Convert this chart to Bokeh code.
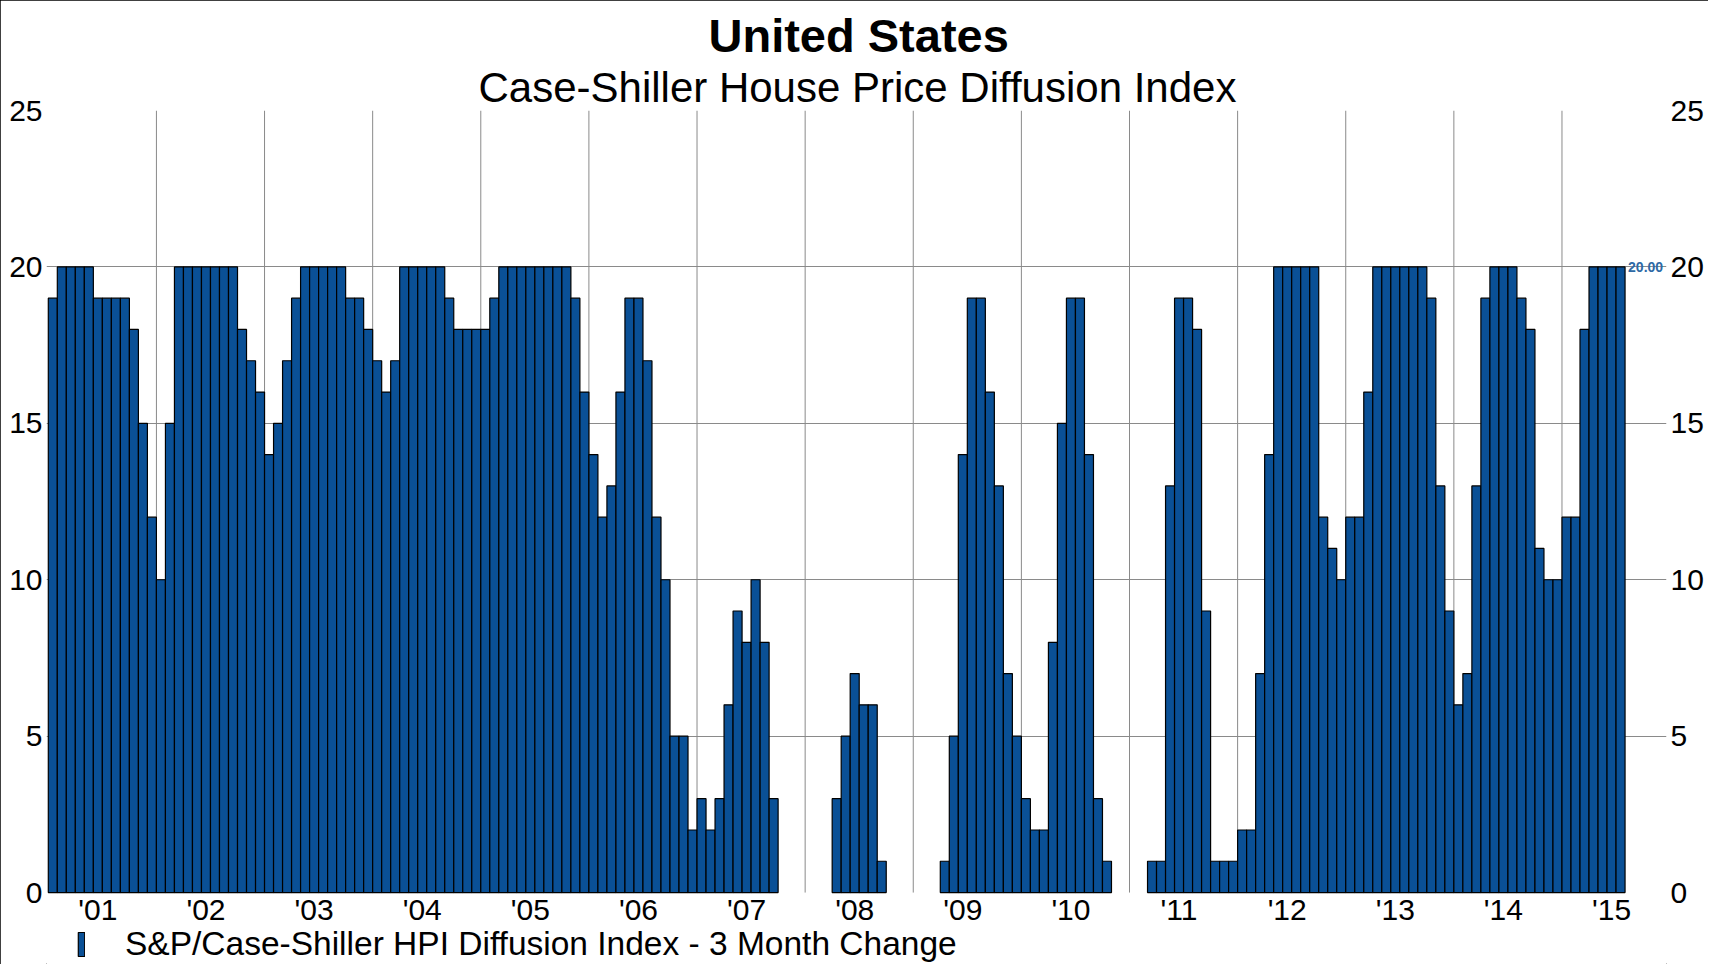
from bokeh.plotting import figure
from bokeh.models import (ColumnDataSource, FixedTicker, LinearAxis, Title, Label,
                          Legend, LegendItem, Range1d)
from bokeh.core.properties import value
from bokeh.embed import file_html
from bokeh.resources import INLINE

# Monthly values, Jan 2001 - Jul 2015
v2001 = [19, 20, 20, 20, 20, 19, 19, 19, 19, 18, 15, 12]
v2002 = [10, 15, 20, 20, 20, 20, 20, 20, 20, 18, 17, 16]
v2003 = [14, 15, 17, 19, 20, 20, 20, 20, 20, 19, 19, 18]
v2004 = [17, 16, 17, 20, 20, 20, 20, 20, 19, 18, 18, 18]
v2005 = [18, 19, 20, 20, 20, 20, 20, 20, 20, 20, 19, 16]
v2006 = [14, 12, 13, 16, 19, 19, 17, 12, 10, 5, 5, 2]
v2007 = [3, 2, 3, 6, 9, 8, 10, 8, 3, 0, 0, 0]
v2008 = [0, 0, 0, 3, 5, 7, 6, 6, 1, 0, 0, 0]
v2009 = [0, 0, 0, 1, 5, 14, 19, 19, 16, 13, 7, 5]
v2010 = [3, 2, 2, 8, 15, 19, 19, 14, 3, 1, 0, 0]
v2011 = [0, 0, 1, 1, 13, 19, 19, 18, 9, 1, 1, 1]
v2012 = [2, 2, 7, 14, 20, 20, 20, 20, 20, 12, 11, 10]
v2013 = [12, 12, 16, 20, 20, 20, 20, 20, 20, 19, 13, 9]
v2014 = [6, 7, 13, 19, 20, 20, 20, 19, 18, 11, 10, 10]
v2015 = [12, 12, 18, 20, 20, 20, 20]

year_labels = ["'01", "'02", "'03", "'04", "'05", "'06", "'07", "'08",
               "'09", "'10", "'11", "'12", "'13", "'14", "'15"]
y_ticks = [0, 5, 10, 15, 20, 25]

values = (v2001 + v2002 + v2003 + v2004 + v2005 + v2006 + v2007 + v2008 +
          v2009 + v2010 + v2011 + v2012 + v2013 + v2014 + v2015)
month_pos = [i + 0.5 for i in range(len(values))]
# zero months draw nothing (no outline on the baseline)
keep = [i for i, v in enumerate(values) if v > 0]
src = ColumnDataSource(dict(x=[month_pos[i] for i in keep],
                            top=[values[i] for i in keep]))

FONT = "Liberation Sans"
BAR = "#0A5096"
GRID = "#8a8a8a"

# frame reaches the bottom of the figure; the band below 0 holds year labels + legend
p = figure(width=1708, height=964, output_backend="svg", toolbar_location=None,
           x_range=Range1d(-0.2, 179.6), y_range=Range1d(-2.30, 25),
           x_axis_location=None,
           min_border_left=46, min_border_right=42, min_border_top=110,
           min_border_bottom=0, title="United States")
p.outline_line_color = None
p.background_fill_color = "white"
p.border_fill_color = "white"

p.title.align = "left"
p.title.text_font = FONT
p.title.text_font_size = "47px"
p.title.text_font_style = "bold"
p.title.text_color = "black"
p.title.offset = 662
p.title.standoff = 0

sub = Title(text="Case-Shiller House Price Diffusion Index", align="left",
            text_font=FONT, text_font_size="42px", text_font_style="normal",
            text_color="black", offset=432, standoff=0)
p.add_layout(sub, "above")

# horizontal grid
p.xgrid.visible = False
p.ygrid.ticker = FixedTicker(ticks=[5, 10, 15, 20])
p.ygrid.grid_line_color = GRID
p.ygrid.grid_line_width = 1

# vertical year-boundary lines (from 0 to 25)
n_years = len(year_labels)
bounds = [12 * i for i in range(1, n_years)]
p.segment(x0=bounds, x1=bounds, y0=[0] * len(bounds), y1=[25] * len(bounds),
          line_color=GRID, line_width=1)

bars = p.vbar(x="x", top="top", width=1.0, bottom=0, source=src,
              fill_color=BAR, line_color="black", line_width=1.2)

# year labels near mid-year, just below the zero line
label_pos = [12 * i + 5.5 for i in range(n_years)]
p.text(x=label_pos, y=[0] * n_years, text=year_labels, text_align="center",
       text_baseline="top", y_offset=0, text_font=value(FONT),
       text_font_size="30px", text_color="black")

p.yaxis.ticker = FixedTicker(ticks=y_ticks)
p.yaxis.axis_line_color = None
p.yaxis.major_tick_line_color = None
p.yaxis.minor_tick_line_color = None
p.yaxis.major_label_text_font = FONT
p.yaxis.major_label_text_font_size = "30px"
p.yaxis.major_label_text_color = "black"
p.yaxis.major_label_standoff = -2

ry = LinearAxis(ticker=FixedTicker(ticks=y_ticks))
ry.axis_line_color = None
ry.major_tick_line_color = None
ry.minor_tick_line_color = None
ry.major_label_text_font = FONT
ry.major_label_text_font_size = "30px"
ry.major_label_text_color = "black"
ry.major_label_standoff = -2
p.add_layout(ry, "right")

last_lbl = Label(x=len(values), y=values[-1], x_offset=3, text="%.2f" % values[-1],
                 text_font=FONT, text_font_size="14px", text_font_style="bold",
                 text_color="#2E6AA6", text_baseline="middle", text_align="left")
p.add_layout(last_lbl)

legend = Legend(items=[LegendItem(label="S&P/Case-Shiller HPI Diffusion Index - 3 Month Change",
                                  renderers=[bars])],
                location=(31, 1), orientation="horizontal",
                glyph_width=8, glyph_height=30, label_standoff=40,
                label_text_font=FONT, label_text_font_size="33.5px",
                label_text_color="black", padding=0, margin=0,
                border_line_color=None, background_fill_alpha=0)
p.add_layout(legend, "center")

p.styles = {"outline": "1px solid black", "outline-offset": "-1px"}

open("out.html", "w").write(file_html(p, INLINE))
